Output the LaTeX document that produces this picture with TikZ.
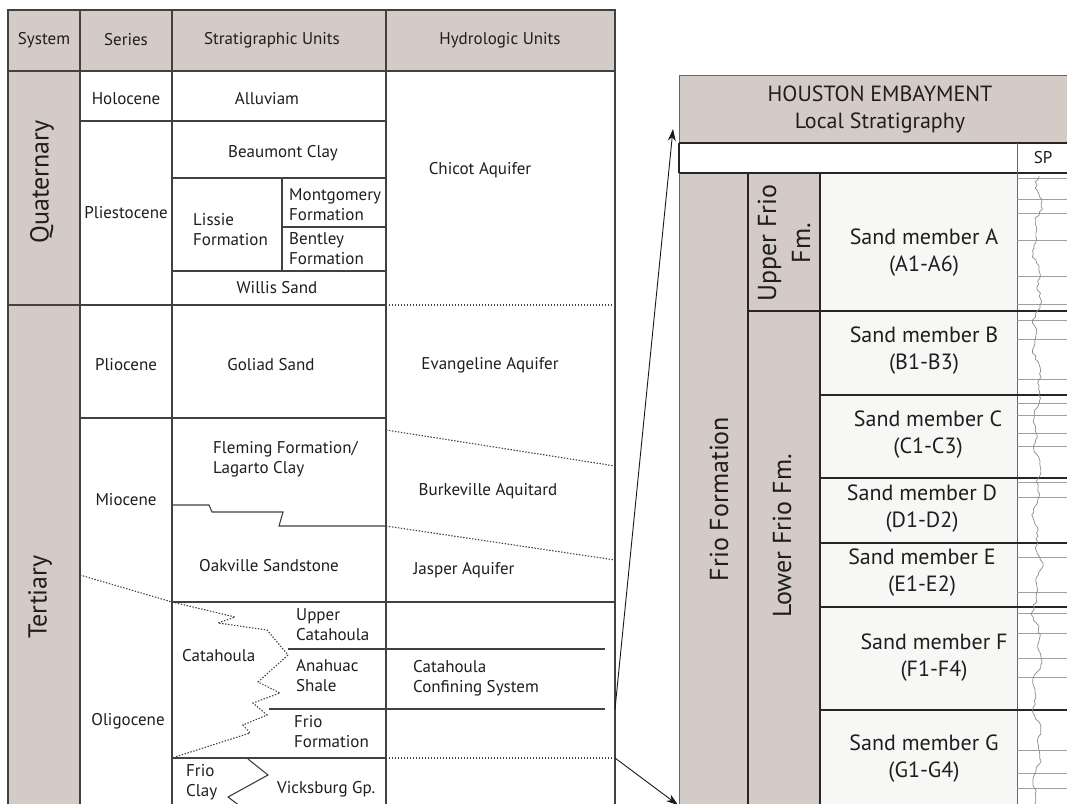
\documentclass[tikz,border=0pt]{standalone}
\usepackage{fontspec}
\setmainfont{PT Sans}
\usetikzlibrary{arrows.meta}
\definecolor{gry}{RGB}{212,203,198}
\definecolor{sandbg}{RGB}{247,247,245}
\definecolor{ln}{RGB}{65,65,65}
\definecolor{txt}{RGB}{30,30,30}
\begin{document}
\begin{tikzpicture}[x=1pt,y=-1pt,
  tline/.style={draw=ln, line width=1.1pt},
  dline/.style={draw=ln, line width=1.1pt, dash pattern=on 1.4pt off 1.6pt},
  lt/.style={font=\fontsize{17}{20}\selectfont, text=txt, inner sep=0pt, align=center},
  ltl/.style={lt, anchor=west, align=left},
  bigrot/.style={font=\fontsize{26}{30}\selectfont, text=txt, inner sep=0pt, rotate=90, align=center},
  rt/.style={font=\fontsize{22}{27}\selectfont, text=txt, inner sep=0pt, align=center},
  sline/.style={draw=black!85, line width=1.8pt},
  thinr/.style={draw=black!60, line width=0.8pt},
  spl/.style={draw=gray!75, line width=0.6pt},
  spc/.style={draw=gray!90, line width=0.7pt, line join=round},
  arr/.style={draw=black!90, line width=0.9pt, -{Stealth[length=12pt,width=8pt]}}
]
\useasboundingbox (0,0) rectangle (1067,803);
\clip (0,0) rectangle (1067,803);
\fill[white] (0,0) rectangle (1067,803);

% ---------------- left table ----------------
\fill[gry] (8,10) rectangle (615,71);
\fill[gry] (8,71) rectangle (80,820);
% outer and column lines
\draw[tline] (8,820) -- (8,10) -- (615,10) -- (615,820);
\draw[tline] (8,71) -- (615,71);
\draw[tline] (80,10) -- (80,820);
\draw[tline] (172,10) -- (172,820);
\draw[tline] (386,10) -- (386,820);
% Quaternary rows
\draw[tline] (80,121) -- (386,121);
\draw[tline] (172,178) -- (386,178);
\draw[tline] (282,178) -- (282,271);
\draw[tline] (282,227) -- (386,227);
\draw[tline] (172,271) -- (386,271);
\draw[tline] (8,305) -- (386,305);
\draw[dline] (386,305) -- (615,305);
% Tertiary
\draw[tline] (80,418) -- (386,418);
\draw[dline] (386,430) -- (615,466);
\draw[tline] (172,505) -- (209,505) -- (212,512) -- (283,512) -- (279,526) -- (386,526);
\draw[dline] (386,526) -- (615,560);
\draw[tline] (172,602) -- (615,602);
\draw[dline] (80,575) -- (172,602);
\draw[dline] (172,602) -- (235,617) -- (218,623) -- (267,630) -- (288,655) -- (258,682)
  -- (280,693) -- (253,703) -- (267,715) -- (243,725) -- (250,733) -- (175,757);
\draw[tline] (288,649) -- (605,649);
\draw[tline] (269,709) -- (605,709);
\draw[tline] (172,758) -- (386,758);
\draw[dline] (386,758) -- (615,758);
\draw[tline] (248,759) -- (268,775) -- (228,797) -- (240,806);

% left table text
\node[lt] (hSys) at (44,40) {System};
\node[lt] (hSer) at (126,40) {Series};
\node[lt] (hStr) at (272,40) {Stratigraphic Units};
\node[lt] (hHyd) at (500,40) {Hydrologic Units};
\node[bigrot] (quat) at (42,182) {Quaternary};
\node[bigrot] (tert) at (40,597) {Tertiary};
\node[lt] (holo) at (126,99) {Holocene};
\node[lt] (allu) at (267,99) {Alluviam};
\node[lt] (beau) at (283,153) {Beaumont Clay};
\node[lt] (chic) at (480,170) {Chicot Aquifer};
\node[lt] (plei) at (126,213) {Pliestocene};
\node[ltl] (liss) at (193,230) {Lissie\\Formation};
\node[ltl] (mont) at (289,205) {Montgomery\\Formation};
\node[ltl] (bent) at (289,249) {Bentley\\Formation};
\node[lt] (will) at (277,288) {Willis Sand};
\node[lt] (plio) at (126,365) {Pliocene};
\node[lt] (goli) at (271,365) {Goliad Sand};
\node[lt] (evan) at (490,365) {Evangeline Aquifer};
\node[ltl] (flem) at (213,459) {Fleming Formation/\\Lagarto Clay};
\node[lt] (burk) at (488,491) {Burkeville Aquitard};
\node[lt] (mioc) at (126,500) {Miocene};
\node[lt] (oakv) at (269,566) {Oakville Sandstone};
\node[lt] (jasp) at (464,570) {Jasper Aquifer};
\node[ltl] (upca) at (296,625) {Upper\\Catahoula};
\node[ltl] (cata) at (182,656) {Catahoula};
\node[ltl] (anah) at (296,676) {Anahuac\\Shale};
\node[ltl] (ccs) at (413,678) {Catahoula\\Confining System};
\node[ltl] (frfm) at (294,732) {Frio\\Formation};
\node[lt] (olig) at (128,721) {Oligocene};
\node[ltl] (frcl) at (186,782) {Frio\\Clay};
\node[ltl] (vick) at (277,789) {Vicksburg Gp.};

% ---------------- right panel ----------------
\fill[gry] (679,75) rectangle (1080,143);
\draw[thinr] (679,143) -- (679,75) -- (1080,75);
\fill[white] (679,143) rectangle (1080,173);
\fill[gry] (679,173) rectangle (820,820);
\fill[sandbg] (820,173) rectangle (1017,820);
\draw[thinr] (679,173) -- (679,820);
\draw[sline] (679,143) -- (1080,143);
\draw[sline] (679,143) -- (679,173);
\draw[sline] (679,173) -- (1080,173);
\draw[thinr] (1017,143) -- (1017,820);
\draw[sline] (748,173) -- (748,820);
\draw[sline] (820,173) -- (820,820);
\draw[sline] (748,311) -- (1080,311);
\foreach \yy in {395,478,543,607,710} {\draw[sline] (820,\yy) -- (1080,\yy);}
% SP grid lines
\foreach \yy in {178,199,213,240,276,304,320,339,379,403,415,433,446,482,497,557,592,613,633,658,677,750,773,788}
  {\draw[spl] (1017,\yy) -- (1080,\yy);}
% SP curve
\pgfmathsetseed{5}
\draw[spc] (1039,176) \foreach \yy in {179,182,...,806} { -- ({1037+3*sin(\yy*4)+2*sin(\yy*11)+3*rnd-1.5},\yy) };

\node[rt] (hou) at (880,109) {HOUSTON EMBAYMENT\\Local Stratigraphy};
\node[font=\fontsize{17}{18}\selectfont, text=txt, inner sep=0pt] (sp) at (1043,158) {SP};
\node[bigrot] (frio) at (719,499) {Frio Formation};
\node[bigrot, font=\fontsize{26}{34}\selectfont] (ufrio) at (784,243) {Upper Frio\\Fm.};
\node[bigrot] (lfrio) at (782,536) {Lower Frio Fm.};
\node[rt] (sa) at (924,253) {Sand member A\\(A1-A6)};
\node[rt] (sb) at (924,351) {Sand member B\\(B1-B3)};
\node[rt] (sc) at (928,435) {Sand member C\\(C1-C3)};
\node[rt] (sd) at (922,509) {Sand member D\\(D1-D2)};
\node[rt] (se) at (922,573) {Sand member E\\(E1-E2)};
\node[rt] (sf) at (934,658) {Sand member F\\(F1-F4)};
\node[rt] (sg) at (924,759) {Sand member G\\(G1-G4)};

% arrows
\coordinate (a1s) at (615,709);
\coordinate (a1e) at (673,129);
\coordinate (a2s) at (615,758);
\coordinate (a2e) at (678,805);
\draw[arr] (a1s) -- (a1e);
\draw[arr] (a2s) -- (a2e);
\end{tikzpicture}
\end{document}
